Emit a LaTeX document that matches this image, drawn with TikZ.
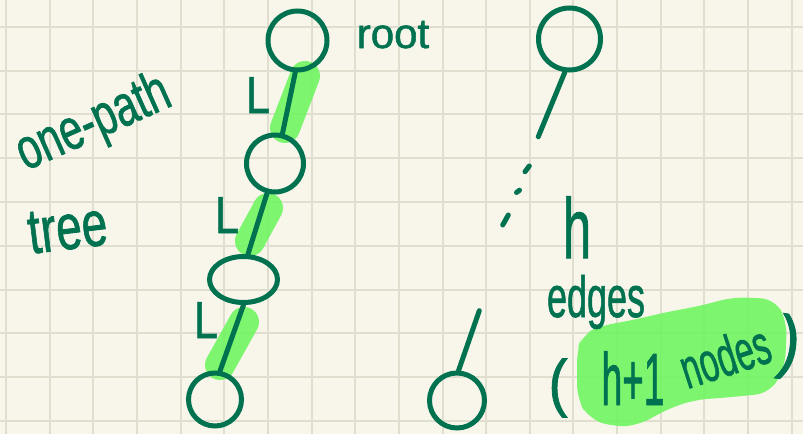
\documentclass[tikz,border=0pt]{standalone}
\usepackage{fontspec}
\setmainfont{Liberation Sans}
\newfontfamily\hand{Liberation Sans}[FakeBold=1.3]
\usetikzlibrary{shapes.geometric}
\definecolor{ink}{RGB}{0,114,80}
\definecolor{hl}{RGB}{108,245,94}
\definecolor{paper}{RGB}{248,246,235}
\definecolor{gridc}{RGB}{224,222,207}
\newcommand{\fs}[1]{\hand\fontsize{#1}{#1}\selectfont}
\tikzset{
  inkline/.style={draw=ink, line width=5pt, line cap=round},
  treenode/.style={circle, draw=ink, line width=5pt, inner sep=0pt},
  hlstroke/.style={draw=hl, opacity=0.88, line width=30pt, line cap=round},
  hw/.style={text=ink, inner sep=0pt},
  gridline/.style={draw=gridc, line width=2pt},
}
\begin{document}
\begin{tikzpicture}[x=1pt,y=-1pt]
\fill[paper] (0,0) rectangle (803,434);
\useasboundingbox (0,0) rectangle (803,434);
% grid
\foreach \i in {0,...,18} \draw[gridline] ({6+43.65*\i},0) -- ({6+43.65*\i},434);
\foreach \j in {0,...,9} \draw[gridline] (0,{26.7+43.8*\j}) -- (803,{26.7+43.8*\j});

% highlights
\draw[hlstroke] (305,76) -- (285,128);
\draw[hlstroke] (268,208) -- (250,241);
\draw[hlstroke] (244,322) -- (220,365);
\fill[hl, opacity=0.88, rounded corners=14pt]
  (582,335) -- (600,326) -- (633,320) -- (667,312) -- (700,306) -- (733,297)
  -- (775,299) -- (787,322) -- (785,367) -- (770,393) -- (733,397) -- (693,400)
  -- (663,411) -- (640,425) -- (613,427) -- (588,418) -- (577,398) -- (577,350) -- cycle;

% left tree
\node[treenode, minimum size=59pt] (root) at (297.5,40.5) {};
\node[treenode, minimum size=57pt] (n2) at (275,163.5) {};
\node[ellipse, draw=ink, line width=5pt, inner sep=0pt, minimum width=68pt, minimum height=46pt] (n3) at (243.5,279.5) {};
\node[treenode, minimum size=53pt] (n4) at (215,399.5) {};
\draw[inkline] (root.-94) -- (n2.76);
\draw[inkline] (n2.-105) -- (n3.80);
\draw[inkline] (n3.south) -- (n4.80);

% right tree
\node[treenode, minimum size=62pt] (rt) at (569.5,39) {};
\node[treenode, minimum size=55pt] (rb) at (457,400.5) {};
\coordinate (rtend) at (538.3,136.7);
\coordinate (rbstart) at (479.3,310.7);
\draw[inkline] (rt.-98) -- (rtend);
\draw[inkline] (rbstart) -- (rb.87);
\draw[inkline] (525,171.7) -- (529.3,166);
\draw[inkline] (516.5,192.5) -- (519.5,190.2);
\draw[inkline] (502.7,225) -- (508.3,215);

% labels
\node[hw, font=\fs{42}, anchor=base] (rootlbl) at (393,48) {root};
\node[hw, font=\fs{58}, anchor=base, rotate=24, xscale=0.71] (onepath) at (100,138) {one-path};
\node[hw, font=\fs{64}, anchor=base, rotate=7, xscale=0.72] (tree) at (70,249) {tree};
\node[hw, font=\fs{52}, anchor=base, xscale=0.83] (l1) at (258,113) {L};
\node[hw, font=\fs{52}, anchor=base, xscale=0.83] (l2) at (227,233) {L};
\node[hw, font=\fs{52}, anchor=base, xscale=0.83] (l3) at (206,338) {L};
\node[hw, font=\fs{85}, anchor=base, xscale=0.6] (h) at (577,258) {h};
\node[hw, font=\fs{58}, anchor=base, xscale=0.62] (edges) at (596,317) {edges};
\node[hw, font=\fs{63}, xscale=0.9] (lp) at (558,388) {(};
\node[hw, font=\fs{74}, anchor=base, xscale=0.5] (hp1) at (633,405) {h+1};
\node[hw, font=\fs{56}, anchor=base, rotate=18, xscale=0.6] (nodes) at (731,375) {nodes};
\node[hw, font=\fs{70}, rotate=-8, xscale=0.9] (rp) at (789,347) {)};
\end{tikzpicture}
\end{document}
